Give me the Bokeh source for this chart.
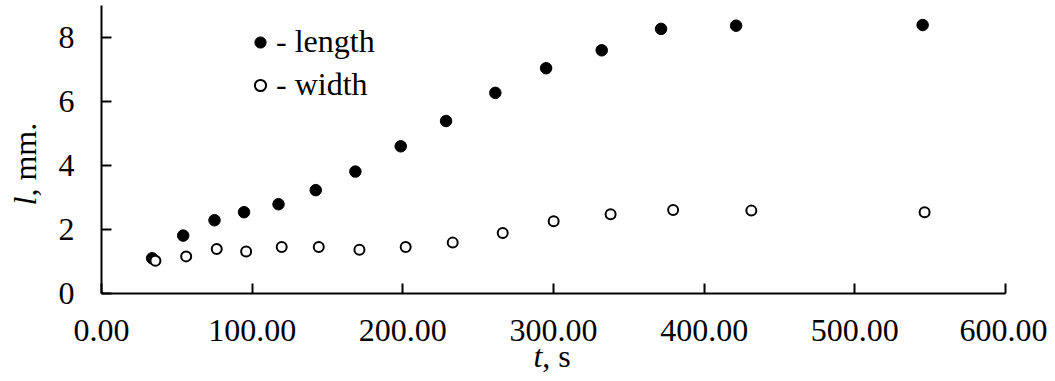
import math
from bokeh.plotting import figure
from bokeh.models import (Range1d, FixedTicker, PrintfTickFormatter, Legend, LegendItem, Label)
from bokeh.embed import file_html
from bokeh.resources import INLINE

# data
t_length = [33.6, 54.2, 75.0, 94.6, 117.5, 142.2, 168.5, 198.6, 228.7, 261.4, 295.1, 332.0, 371.4, 421.2, 545.0]
l_length = [1.10, 1.81, 2.29, 2.54, 2.79, 3.23, 3.81, 4.60, 5.39, 6.27, 7.04, 7.60, 8.27, 8.37, 8.39]
t_width = [35.8, 56.2, 76.5, 96.0, 119.6, 144.2, 171.2, 201.9, 233.1, 266.3, 300.1, 337.9, 379.4, 431.3, 546.3]
l_width = [1.02, 1.16, 1.39, 1.31, 1.45, 1.45, 1.37, 1.45, 1.59, 1.89, 2.26, 2.48, 2.61, 2.59, 2.54]
x_ticks = [0, 100, 200, 300, 400, 500, 600]
y_ticks = [0, 2, 4, 6, 8]
legend_labels = ["- length", "- width"]

FONT = "Liberation Serif"
FS = "32px"

# pixel layout of the axes box inside the canvas
W, H = 1047, 373
AX_L, AX_R, AX_T, AX_B = 101, 1005, 5, 293
X0, X1, Y0, Y1 = 0, 600, 0, 9
sx = (AX_R - AX_L) / (X1 - X0)
sy = (AX_B - AX_T) / (Y1 - Y0)

p = figure(width=W, height=H, output_backend="svg", toolbar_location=None,
           x_range=Range1d(X0 - AX_L / sx, X1 + (W - AX_R) / sx),
           y_range=Range1d(Y0 - (H - AX_B) / sy, Y1 + AX_T / sy),
           min_border=0, min_border_left=0, min_border_right=0,
           min_border_top=0, min_border_bottom=0)
p.grid.visible = False
p.outline_line_color = None
p.background_fill_color = "white"

r1 = p.scatter(t_length, l_length, marker="circle", size=11.5, fill_color="black", line_color="black")
r2 = p.scatter(t_width, l_width, marker="circle", size=10, fill_color="white", line_color="black", line_width=2)

for ax in (p.xaxis[0], p.yaxis[0]):
    ax.fixed_location = 0
    ax.axis_line_width = 2
    ax.axis_line_color = "black"
    ax.major_tick_line_width = 2
    ax.major_tick_line_color = "black"
    ax.major_tick_in = 10
    ax.major_tick_out = 0
    ax.minor_tick_line_color = None
    ax.major_label_text_font = FONT
    ax.major_label_text_font_size = FS
    ax.major_label_text_color = "black"

p.xaxis.bounds = (X0, X1)
p.yaxis.bounds = (Y0, Y1)
p.xaxis.ticker = FixedTicker(ticks=x_ticks)
p.yaxis.ticker = FixedTicker(ticks=y_ticks)
p.xaxis.formatter = PrintfTickFormatter(format="%.2f")
p.xaxis.major_label_standoff = 26
p.yaxis.major_label_standoff = 27

# axis titles (italic variable + normal unit), placed in data units
label_style = dict(text_font=FONT, text_font_size=FS, text_color="black",
                   text_align="left", text_baseline="middle")
p.add_layout(Label(x=286.7, y=-1.94, text="t", text_font_style="italic", **label_style))
p.add_layout(Label(x=292.6, y=-1.94, text=", s", **label_style))
p.add_layout(Label(x=-50.8, y=2.75, text="l", text_font_style="italic", angle=math.pi / 2, **label_style))
p.add_layout(Label(x=-50.8, y=3.03, text=", mm.", angle=math.pi / 2, **label_style))

legend = Legend(items=[LegendItem(label=legend_labels[0], renderers=[r1]),
                       LegendItem(label=legend_labels[1], renderers=[r2])],
                location=(246, H - 103), orientation="vertical")
legend.border_line_color = None
legend.background_fill_alpha = 0
legend.padding = 0
legend.margin = 0
legend.spacing = 6
legend.glyph_width = 28
legend.glyph_height = 36
legend.label_height = 36
legend.label_standoff = 2
legend.label_text_font = FONT
legend.label_text_font_size = FS
legend.label_text_color = "black"
p.add_layout(legend)

open("out.html", "w").write(file_html(p, INLINE))
